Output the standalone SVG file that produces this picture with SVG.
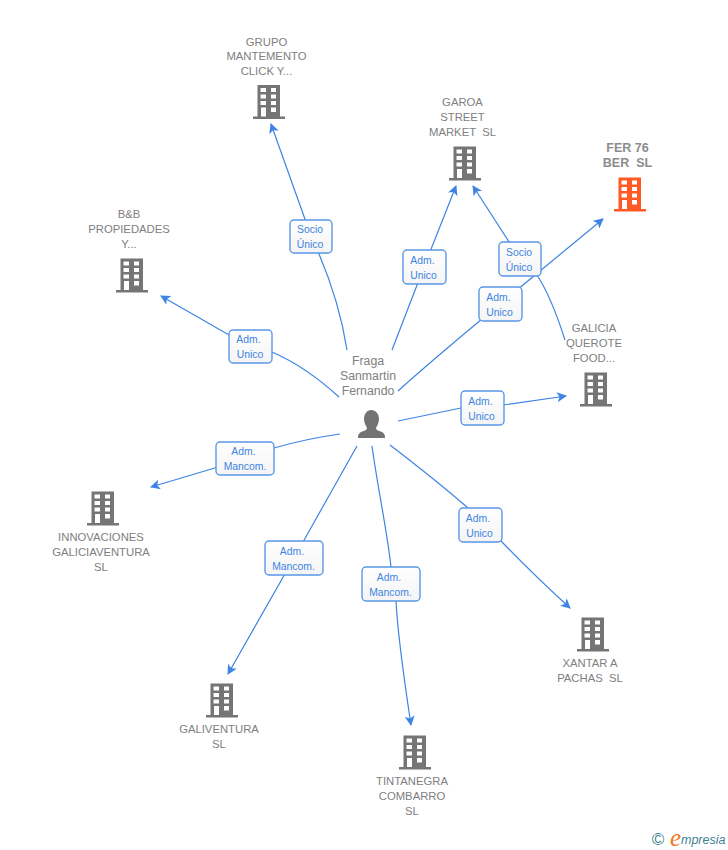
<svg xmlns="http://www.w3.org/2000/svg" width="728" height="850" viewBox="0 0 728 850">
<style>
text{font-family:"Liberation Sans",Arial,sans-serif;white-space:pre}
.n{font-size:11.300px;fill:#808080;text-anchor:middle}
.p{font-size:12.300px;fill:#808080;text-anchor:middle}
.f{font-size:12.500px;font-weight:bold;fill:#8c8c8c;text-anchor:middle}
.c{fill:none;stroke:#3d84e3;stroke-width:1.200}
.b{fill:url(#g);stroke:#5a97e8;stroke-width:1.400}
.l{font-size:10.400px;fill:#3d84e3;text-anchor:middle}
.a{fill:#3d84e3}
</style>
<defs>
<linearGradient id="g" x1="0" y1="0" x2="0" y2="1"><stop offset="0" stop-color="#fff"/><stop offset="1" stop-color="#f4f4f4"/></linearGradient>
<symbol id="bld" viewBox="0 0 32 35" width="32" height="35" overflow="visible">
<path fill-rule="evenodd" d="M4.500 0.500H27V32H32V34.500H0V32H4.500ZM7.500 3.500V7.500H13V3.500ZM18 3.500V7.500H23V3.500ZM7.500 10V14H13V10ZM18 10V14H23V10ZM7.500 16.500V20.500H13V16.500ZM18 16.500V20.500H23V16.500ZM8 23V32H13V23ZM18 23V27.500H23V23Z"/>
</symbol>
<marker id="ar" viewBox="0 0 10 10" refX="9" refY="5" markerWidth="10" markerHeight="10" markerUnits="userSpaceOnUse" orient="auto"><path class="a" d="M0 0L10 5L0 10L2.500 5Z"/></marker>
</defs>
<g id="connectors">
<path class="c" marker-end="url(#ar)" d="M347 350C340 305 327 270 311 236L271 124"/>
<path class="c" marker-end="url(#ar)" d="M392 350L424 267L456 186"/>
<path class="c" marker-end="url(#ar)" d="M398 391C430 362 465 333 500 304L603 219"/>
<path class="c" marker-end="url(#ar)" d="M565 340C558 318 550 295 537 275L520 259L473 186"/>
<path class="c" marker-end="url(#ar)" d="M339 397C315 375 295 362 272 352L250 347L161 296"/>
<path class="c" marker-end="url(#ar)" d="M398 421L461 408L482 408L566 396"/>
<path class="c" marker-end="url(#ar)" d="M340 434C318 437 295 442 274 448L245 459L151 487"/>
<path class="c" marker-end="url(#ar)" d="M357 446L294 558L228 674"/>
<path class="c" marker-end="url(#ar)" d="M372 446C378 490 387 530 391 567L396 601C398 640 405 685 411 725"/>
<path class="c" marker-end="url(#ar)" d="M390 445C420 468 445 488 468 508L502 542C525 566 548 588 570 608"/>
</g>
<g id="labels">
<rect class="b" x="290" y="220" width="42" height="33" rx="4"/><text class="l" x="310" y="233">Socio</text><text class="l" x="310" y="248">Único</text>
<rect class="b" x="403" y="250" width="43" height="34" rx="4"/><text class="l" x="422.500" y="264">Adm.</text><text class="l" x="423.500" y="279">Unico</text>
<rect class="b" x="479" y="287" width="43" height="34" rx="4"/><text class="l" x="498.500" y="301">Adm.</text><text class="l" x="499.500" y="316">Unico</text>
<rect class="b" x="499" y="242" width="42" height="34" rx="4"/><text class="l" x="519" y="256">Socio</text><text class="l" x="519" y="271">Único</text>
<rect class="b" x="229" y="330" width="43" height="33" rx="4"/><text class="l" x="248.500" y="343">Adm.</text><text class="l" x="250" y="358">Unico</text>
<rect class="b" x="461" y="391" width="43" height="34" rx="4"/><text class="l" x="480.500" y="405">Adm.</text><text class="l" x="481.500" y="420">Unico</text>
<rect class="b" x="216" y="442" width="58" height="33" rx="4"/><text class="l" x="243.500" y="455">Adm.</text><text class="l" x="245" y="470">Mancom.</text>
<rect class="b" x="459" y="508" width="43" height="34" rx="4"/><text class="l" x="478" y="522">Adm.</text><text class="l" x="479.500" y="537">Unico</text>
<rect class="b" x="265" y="541" width="58" height="34" rx="4"/><text class="l" x="292" y="555">Adm.</text><text class="l" x="293.500" y="570">Mancom.</text>
<rect class="b" x="362" y="567" width="58" height="34" rx="4"/><text class="l" x="389" y="581">Adm.</text><text class="l" x="390.500" y="596">Mancom.</text>
</g>
<g id="person">
<text class="p" x="368" y="365">Fraga</text><text class="p" x="368" y="380">Sanmartin</text><text class="p" x="368" y="395">Fernando</text>
<path fill="#737373" d="M371 410C376 410 379 414 379 419C379 423 377 426 376 428C376 430 379 431 382 432C384 433 385 435 385 437V438H358V437C358 435 359 433 361 432C364 431 367 430 367 428C366 426 364 423 364 419C364 414 367 410 371 410Z"/>
</g>
<g id="n1" fill="#757575"><text class="n" x="266.500" y="46">GRUPO</text><text class="n" x="266.500" y="60">MANTEMENTO</text><text class="n" x="266.500" y="75">CLICK Y...</text><use href="#bld" x="253" y="84.500"/></g>
<g id="n2" fill="#757575"><text class="n" x="462.500" y="106">GAROA</text><text class="n" x="462.500" y="121">STREET</text><text class="n" x="462.500" y="136">MARKET  SL</text><use href="#bld" x="449" y="146"/></g>
<g id="n3" fill="#ff5a26"><text class="f" x="627.500" y="152">FER 76</text><text class="f" x="627.500" y="167">BER  SL</text><use href="#bld" x="614" y="177"/></g>
<g id="n4" fill="#757575"><text class="n" x="129" y="218">B&amp;B</text><text class="n" x="129" y="233">PROPIEDADES</text><text class="n" x="129" y="248">Y...</text><use href="#bld" x="116" y="258"/></g>
<g id="n5" fill="#757575"><text class="n" x="594" y="332">GALICIA</text><text class="n" x="594" y="347">QUEROTE</text><text class="n" x="594" y="362">FOOD...</text><use href="#bld" x="580" y="372"/></g>
<g id="n6" fill="#757575"><use href="#bld" x="87" y="491"/><text class="n" x="101" y="541">INNOVACIONES</text><text class="n" x="101" y="556">GALICIAVENTURA</text><text class="n" x="101" y="571">SL</text></g>
<g id="n7" fill="#757575"><use href="#bld" x="206" y="683"/><text class="n" x="219" y="733">GALIVENTURA</text><text class="n" x="219" y="748">SL</text></g>
<g id="n8" fill="#757575"><use href="#bld" x="399" y="735"/><text class="n" x="412" y="785">TINTANEGRA</text><text class="n" x="412" y="800">COMBARRO</text><text class="n" x="412" y="815">SL</text></g>
<g id="n9" fill="#757575"><use href="#bld" x="577" y="617"/><text class="n" x="590" y="667">XANTAR A</text><text class="n" x="590" y="682">PACHAS  SL</text></g>
<g id="credit"><text x="658" y="844.500" text-anchor="middle" style="font-size:17px;fill:#3f7f95">©</text><text x="670" y="846" style="font-family:'Liberation Serif',serif;font-size:25px;font-style:italic;fill:#ee7a1a">e</text><text x="681" y="844" style="font-size:12.500px;font-style:italic;fill:#3f7f95">mpresia</text></g>
</svg>
